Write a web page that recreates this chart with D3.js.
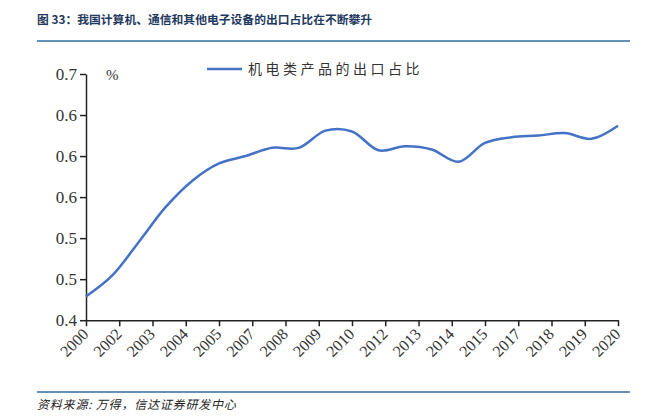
<!DOCTYPE html>
<html>
<head>
<meta charset="utf-8">
<script src="https://cdn.jsdelivr.net/npm/d3@7"></script>
<style>
html,body{margin:0;padding:0;background:#fff;}
svg{display:block;}
text.serif{font-family:"Liberation Serif",serif !important;}
</style>
</head>
<body>
<svg id="chart" width="647" height="418"></svg>
<script>
const titleText = "图 33：我国计算机、通信和其他电子设备的出口占比在不断攀升";
const sourceText = "资料来源: 万得，信达证券研发中心";
const seriesName = "机电类产品的出口占比";
const unitLabel = "%";
const years = [2000,2001,2002,2003,2004,2005,2006,2007,2008,2009,2010,2011,2012,2013,2014,2015,2016,2017,2018,2019,2020];
const values = [0.429,0.455,0.496,0.538,0.570,0.591,0.600,0.610,0.610,0.631,0.630,0.607,0.612,0.608,0.593,0.616,0.623,0.625,0.628,0.621,0.637];
const yTickValues = [0.40,0.45,0.50,0.55,0.60,0.65,0.70];
const yTickLabels = ["0.4","0.5","0.5","0.6","0.6","0.6","0.7"];
const xTickLabels = ["2000","2002","2003","2004","2005","2007","2008","2009","2010","2012","2013","2014","2015","2017","2018","2019","2020"];

const svg = d3.select("#chart");
const L = 86, R = 618, T = 74, B = 320.2;
const x = d3.scaleLinear().domain([years[0], years[years.length-1]]).range([L, R]);
const y = d3.scaleLinear().domain([0.4, 0.7]).range([B, T]);
const xTickPos = d3.scalePoint().domain(xTickLabels).range([L, R]);

// title
svg.append("text").attr("x", 37).attr("y", 24)
  .style("font-family", "'Noto Sans CJK SC', sans-serif")
  .attr("font-weight", "bold").attr("font-size", 11.8).attr("fill", "#1f3a60")
  .text(titleText);
svg.append("line").attr("x1", 37).attr("x2", 630).attr("y1", 41).attr("y2", 41)
  .attr("stroke", "#2e6da4").attr("stroke-width", 1.5);

// footer
svg.append("line").attr("x1", 37).attr("x2", 630).attr("y1", 392).attr("y2", 392)
  .attr("stroke", "#2e6da4").attr("stroke-width", 1.5);
svg.append("text").attr("x", 37).attr("y", 409)
  .style("font-family", "'Noto Sans CJK SC', sans-serif")
  .attr("font-style", "italic").attr("font-size", 12).attr("letter-spacing", 0.8).attr("fill", "#222")
  .text(sourceText);

// y axis
const yAxis = d3.axisLeft(y).tickValues(yTickValues)
  .tickFormat((d, i) => yTickLabels[i]).tickSize(6).tickSizeOuter(0);
const gy = svg.append("g").attr("transform", `translate(${L},0)`).call(yAxis);
gy.attr("font-family", "Liberation Serif").attr("font-size", 17);
gy.select(".domain").attr("stroke", "#222").attr("stroke-width", 1.5);
gy.selectAll(".tick line").attr("stroke", "#222").attr("stroke-width", 1.5);
gy.selectAll(".tick text").classed("serif", true)
  .attr("fill", "#333").attr("x", -9);

// x axis
const xAxis = d3.axisBottom(xTickPos).tickSize(6).tickSizeOuter(0);
const gx = svg.append("g").attr("transform", `translate(0,${B})`).call(xAxis);
gx.attr("font-family", "Liberation Serif").attr("font-size", 16);
gx.select(".domain").attr("stroke", "#222").attr("stroke-width", 1.5);
gx.selectAll(".tick line").attr("stroke", "#222").attr("stroke-width", 1.5);
gx.selectAll(".tick text").classed("serif", true)
  .attr("fill", "#333")
  .attr("text-anchor", "end").attr("dy", null).attr("y", null).attr("x", null)
  .attr("transform", "translate(3,15) rotate(-45)");

// unit
svg.append("text").classed("serif", true).attr("x", 106).attr("y", 80)
  .attr("font-size", 15).attr("fill", "#333")
  .text(unitLabel);

// line
const line = d3.line().x((d, i) => x(years[i])).y(d => y(d)).curve(d3.curveCatmullRom.alpha(0.5));
svg.append("path").datum(values).attr("d", line)
  .attr("fill", "none").attr("stroke", "#4472c4").attr("stroke-width", 2.5);

// legend
svg.append("line").attr("x1", 207).attr("x2", 242).attr("y1", 69).attr("y2", 69)
  .attr("stroke", "#4472c4").attr("stroke-width", 2.5);
svg.append("text").attr("x", 248).attr("y", 74)
  .style("font-family", "'Noto Sans CJK SC', sans-serif").attr("font-size", 14)
  .attr("letter-spacing", 3.5).attr("fill", "#333")
  .text(seriesName);
</script>
</body>
</html>
